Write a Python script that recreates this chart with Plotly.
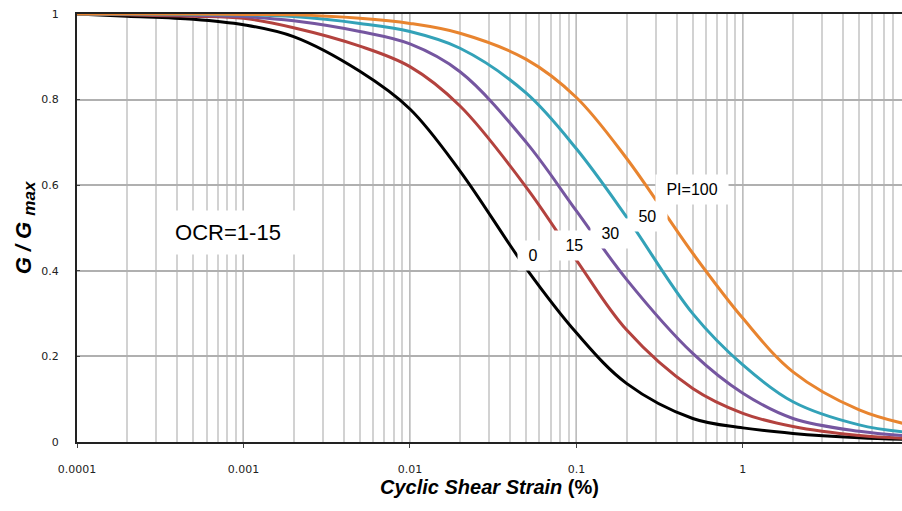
import math
import plotly.graph_objects as go

# Cyclic shear strain (%) at which each curve is tabulated (1-2-5 steps per decade)
strain = [0.0001, 0.0002, 0.0005, 0.001, 0.002, 0.005, 0.01, 0.02, 0.05,
          0.1, 0.2, 0.5, 1, 2, 5, 10]

# Modulus reduction G/Gmax for each plasticity index
g_pi0 = [1.0, 0.995, 0.988, 0.975, 0.947, 0.866, 0.778, 0.633,
         0.405, 0.255, 0.137, 0.055, 0.033, 0.02, 0.01, 0.006]
g_pi15 = [1.0, 0.998, 0.995, 0.99, 0.968, 0.925, 0.877, 0.785,
          0.595, 0.425, 0.262, 0.125, 0.067, 0.036, 0.015, 0.008]
g_pi30 = [1.0, 0.999, 0.997, 0.994, 0.984, 0.959, 0.93, 0.865,
          0.70, 0.54, 0.38, 0.207, 0.114, 0.055, 0.025, 0.014]
g_pi50 = [1.0, 1.0, 0.999, 0.998, 0.994, 0.978, 0.959, 0.92,
          0.815, 0.685, 0.526, 0.30, 0.18, 0.094, 0.04, 0.022]
g_pi100 = [1.0, 1.0, 1.0, 0.999, 0.998, 0.99, 0.978, 0.955,
           0.894, 0.805, 0.663, 0.441, 0.289, 0.164, 0.075, 0.04]

series = [
    ("PI=0", g_pi0, "#000000"),
    ("PI=15", g_pi15, "#b3423e"),
    ("PI=30", g_pi30, "#7556a0"),
    ("PI=50", g_pi50, "#33a2b8"),
    ("PI=100", g_pi100, "#e8842f"),
]

# Curve labels: text, strain position (%), G/Gmax position
label_text = ["0", "15", "30", "50", "PI=100"]
label_x = [0.0548, 0.098, 0.160, 0.266, 0.494]
label_y = [0.435, 0.458, 0.486, 0.526, 0.589]

x_tickvals = [0.0001, 0.001, 0.01, 0.1, 1]
x_ticktext = ["0.0001", "0.001", "0.01", "0.1", "1"]
y_tickvals = [0, 0.2, 0.4, 0.6, 0.8, 1]
y_ticktext = ["0", "0.2", "0.4", "0.6", "0.8", "1"]

fig = go.Figure()
for name, g, color in series:
    fig.add_trace(go.Scatter(
        x=strain, y=g, mode="lines", name=name,
        line=dict(color=color, width=3, shape="spline", smoothing=1.0),
        showlegend=False,
    ))

# annotation x on a log axis is given in log10 units
for t, lx, ly in zip(label_text, label_x, label_y):
    fig.add_annotation(
        x=math.log10(lx), y=ly, xref="x", yref="y", text=" " + t + " ",
        showarrow=False,
        font=dict(family="Liberation Sans, Arial", size=16, color="#000000"),
        bgcolor="#ffffff", borderpad=6,
    )

fig.add_annotation(
    x=math.log10(0.000807), y=0.49, xref="x", yref="y", text=" OCR=1-15 ",
    showarrow=False,
    font=dict(family="Liberation Sans, Arial", size=22, color="#000000"),
    bgcolor="#ffffff", borderpad=9,
)

tick_font = dict(family="DejaVu Sans, Verdana", size=11, color="#222222")

fig.update_layout(
    width=902, height=511,
    margin=dict(l=77, r=0, t=14, b=69),
    paper_bgcolor="#ffffff", plot_bgcolor="#ffffff",
    xaxis=dict(
        type="log", range=[-4, 0.956],
        tickvals=x_tickvals, ticktext=x_ticktext,
        tickfont=tick_font, ticks="outside", ticklen=4, tickcolor="#444444",
        ticklabelstandoff=12,
        showgrid=True, gridcolor="#bdbdbd", gridwidth=1,
        minor=dict(dtick="D1", showgrid=True, gridcolor="#d2d2d2", gridwidth=1.5, ticks=""),
        showline=True, linecolor="#222222", linewidth=2, mirror=True,
        zeroline=False,
        title=dict(text="<b><i>Cyclic Shear Strain</i> (%)</b>",
                   font=dict(family="Liberation Sans, Arial", size=20, color="#000000"),
                   standoff=4),
    ),
    yaxis=dict(
        range=[0, 1], tickvals=y_tickvals, ticktext=y_ticktext,
        tickfont=tick_font, ticks="inside", ticklen=3, tickcolor="#444444",
        ticklabelstandoff=14,
        showgrid=True, gridcolor="#b0b0b0", gridwidth=1.5,
        showline=True, linecolor="#222222", linewidth=2,
        zeroline=False,
        title=dict(text="<b><i>G / G <sub><span style='font-size:17px'>max</span></sub></i></b>",
                   font=dict(family="Liberation Sans, Arial", size=22, color="#000000"),
                   standoff=4),
    ),
)

fig.write_html("out.html")
